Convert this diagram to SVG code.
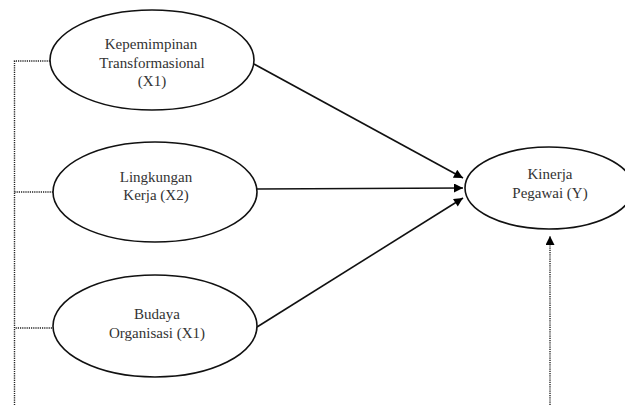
<svg xmlns="http://www.w3.org/2000/svg" width="625" height="405" viewBox="0 0 625 405">
<defs>
<marker id="ah" viewBox="0 0 10 10" refX="10" refY="5" markerWidth="10" markerHeight="9" markerUnits="userSpaceOnUse" orient="auto">
<path d="M0,0 L10,5 L0,10 Z" fill="#000"/>
</marker>
<style>
.node ellipse{fill:#fff;stroke:#111;stroke-width:1.6}
.node text{font-family:'Liberation Serif','DejaVu Serif',serif;font-size:15px;fill:#333;text-anchor:middle}
.solid{stroke:#111;stroke-width:1.6;fill:none}
.dot{stroke:#222;stroke-width:1.4;fill:none;stroke-dasharray:1.2 1}
</style>
</defs>
<rect width="625" height="405" fill="#fff"/>
<g id="connectors">
<path class="dot" d="M50,61 H14.5 V405"/>
<path class="dot" d="M53,192 H14.5"/>
<path class="dot" d="M52,328 H14.5"/>
<path class="dot" d="M550,405 V236" marker-end="url(#ah)"/>
<line class="solid" x1="254" y1="64" x2="463" y2="178" marker-end="url(#ah)"/>
<line class="solid" x1="257" y1="189" x2="463" y2="188" marker-end="url(#ah)"/>
<line class="solid" x1="257" y1="327" x2="463" y2="198" marker-end="url(#ah)"/>
</g>
<g id="x1" class="node" font-family="Liberation Serif, serif">
<ellipse cx="152" cy="60" rx="102" ry="50"/>
<text x="151" y="49">Kepemimpinan</text>
<text x="152" y="68">Transformasional</text>
<text x="152" y="86">(X1)</text>
</g>
<g id="x2" class="node" font-family="Liberation Serif, serif">
<ellipse cx="155" cy="192" rx="102" ry="50"/>
<text x="156" y="182">Lingkungan</text>
<text x="156" y="200">Kerja (X2)</text>
</g>
<g id="x3" class="node" font-family="Liberation Serif, serif">
<ellipse cx="155" cy="326" rx="102" ry="51"/>
<text x="157" y="319">Budaya</text>
<text x="157" y="338">Organisasi (X1)</text>
</g>
<g id="y" class="node" font-family="Liberation Serif, serif">
<ellipse cx="549" cy="188" rx="84" ry="41"/>
<text x="550" y="179">Kinerja</text>
<text x="550" y="198">Pegawai (Y)</text>
</g>
</svg>
